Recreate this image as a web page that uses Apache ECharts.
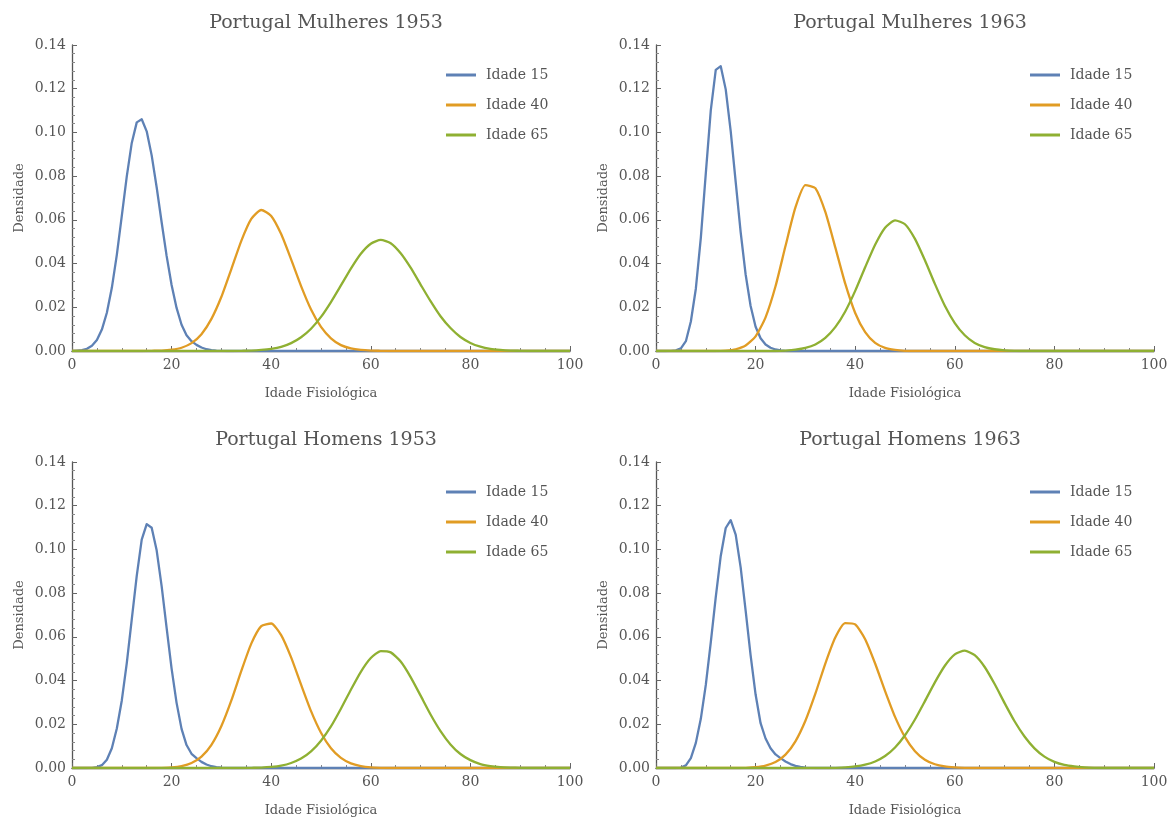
<!DOCTYPE html>
<html>
<head>
<meta charset="utf-8">
<title>Portugal - Idade Fisiológica</title>
<script src="https://cdn.jsdelivr.net/npm/echarts@6/dist/echarts.min.js"></script>
<style>
  html, body { margin: 0; padding: 0; background: #fff; }
  #main { width: 1171px; height: 820px; }
</style>
</head>
<body>
<div id="main"></div>
<script>
// grelhas de x (idade fisiológica) comuns a todos os painéis
const xBlue = [0,1,2,3,4,5,6,7,8,9,10,11,12,13,14,15,16,17,18,19,20,21,22,23,24,25,26,27,28,29,30,31,32,100];
const xOrange = [0,10,12,14,16,18,20,22,24,26,28,30,32,34,36,38,40,42,44,46,48,50,52,54,56,58,60,62,64,66,100];
const xGreen = [0,24,26,28,30,32,34,36,38,40,42,44,46,48,50,52,54,56,58,60,62,64,66,68,70,72,74,76,78,80,82,84,86,88,90,92,94,96,100];

const seriesNames = ['Idade 15', 'Idade 40', 'Idade 65'];
const panelTitles = ['Portugal Mulheres 1953', 'Portugal Mulheres 1963', 'Portugal Homens 1953', 'Portugal Homens 1963'];
const yTicks = [0, 0.02, 0.04, 0.06, 0.08, 0.10, 0.12, 0.14];
const xTicks = [0, 20, 40, 60, 80, 100];

// Mulheres 1953
const m53Idade15 = [0,0.0002,0.0004,0.0010,0.0024,0.0050,0.0098,0.0175,0.0289,0.0440,0.0618,0.0799,0.0952,0.1046,0.1060,0.1005,0.0895,0.0749,0.0589,0.0435,0.0302,0.0197,0.0120,0.0072,0.0045,0.0028,0.0016,0.0008,0.0004,0.0002,0.0001,0,0,0];
const m53Idade40 = [0,0,0,0,0.0001,0.0002,0.0006,0.0015,0.0036,0.0077,0.0147,0.0248,0.0375,0.0504,0.0604,0.0645,0.0618,0.0535,0.0419,0.0297,0.0190,0.0110,0.0058,0.0027,0.0012,0.0005,0.0002,0.0001,0,0,0];
const m53Idade65 = [0,0,0,0,0,0,0.0001,0.0002,0.0005,0.0010,0.0019,0.0036,0.0063,0.0102,0.0156,0.0224,0.0300,0.0377,0.0445,0.0491,0.0508,0.0493,0.0447,0.0381,0.0304,0.0228,0.0159,0.0105,0.0064,0.0037,0.0020,0.0010,0.0005,0.0002,0.0001,0,0,0,0];

// Mulheres 1963
const m63Idade15 = [0,0,0,0.0001,0.0003,0.0012,0.0045,0.0135,0.0285,0.0518,0.0813,0.1101,0.1286,0.1303,0.1197,0.1006,0.0774,0.0544,0.0350,0.0206,0.0111,0.0058,0.0030,0.0015,0.0007,0.0003,0.0001,0,0,0,0,0,0,0];
const m63Idade40 = [0,0,0,0.0002,0.0008,0.0025,0.0067,0.0154,0.0296,0.0480,0.0657,0.0759,0.0745,0.0636,0.0474,0.0308,0.0174,0.0086,0.0037,0.0014,0.0005,0.0001,0,0,0,0,0,0,0,0,0];
const m63Idade65 = [0,0,0.0002,0.0006,0.0014,0.0030,0.0060,0.0109,0.0181,0.0275,0.0383,0.0486,0.0564,0.0598,0.0580,0.0513,0.0415,0.0307,0.0207,0.0128,0.0072,0.0037,0.0018,0.0008,0.0003,0.0001,0,0,0,0,0,0,0,0,0,0,0,0,0];

// Homens 1953
const h53Idade15 = [0,0,0,0,0.0001,0.0004,0.0013,0.0038,0.0090,0.0181,0.0309,0.0480,0.0680,0.0879,0.1045,0.1116,0.1099,0.0996,0.0832,0.0641,0.0455,0.0298,0.0179,0.0105,0.0065,0.0045,0.0028,0.0016,0.0008,0.0004,0.0002,0.0001,0,0];
const h53Idade40 = [0,0,0,0,0,0.0001,0.0003,0.0009,0.0023,0.0052,0.0106,0.0192,0.0309,0.0444,0.0569,0.0649,0.0661,0.0608,0.0506,0.0381,0.0260,0.0161,0.0090,0.0046,0.0021,0.0009,0.0003,0.0001,0,0,0];
const h53Idade65 = [0,0,0,0,0,0,0,0.0001,0.0002,0.0005,0.0011,0.0023,0.0043,0.0076,0.0125,0.0190,0.0271,0.0358,0.0440,0.0503,0.0535,0.0529,0.0487,0.0416,0.0331,0.0245,0.0169,0.0108,0.0064,0.0036,0.0018,0.0009,0.0004,0.0002,0.0001,0,0,0,0];

// Homens 1963
const h63Idade15 = [0,0,0,0,0,0.0002,0.0012,0.0045,0.0115,0.0225,0.0380,0.0575,0.0782,0.0970,0.1098,0.1134,0.1068,0.0918,0.0720,0.0515,0.0336,0.0205,0.0135,0.0090,0.0062,0.0045,0.0030,0.0018,0.0010,0.0005,0.0002,0.0001,0,0];
const h63Idade40 = [0,0,0,0,0,0.0001,0.0004,0.0011,0.0027,0.0061,0.0122,0.0216,0.0340,0.0478,0.0597,0.0663,0.0657,0.0589,0.0478,0.0352,0.0234,0.0141,0.0077,0.0038,0.0017,0.0007,0.0003,0.0001,0,0,0];
const h63Idade65 = [0,0,0,0,0,0,0,0.0001,0.0003,0.0007,0.0015,0.0030,0.0055,0.0094,0.0150,0.0222,0.0306,0.0392,0.0468,0.0520,0.0537,0.0516,0.0462,0.0384,0.0297,0.0214,0.0144,0.0090,0.0052,0.0028,0.0014,0.0007,0.0003,0.0001,0,0,0,0,0];

const panelData = [
  [m53Idade15, m53Idade40, m53Idade65],
  [m63Idade15, m63Idade40, m63Idade65],
  [h53Idade15, h53Idade40, h53Idade65],
  [h63Idade15, h63Idade40, h63Idade65]
];
const xGrids = [xBlue, xOrange, xGreen];

const colors = ['#5E81B5', '#E19C24', '#8FB032'];
const FONT = '"DejaVu Serif", serif';
const TXT = '#555555';

function zip(xs, ys) {
  return xs.map((x, i) => [x, ys[i]]);
}

// posição de cada painel (grelha 2x2)
const lefts = [72, 656];
const tops = [45, 462];
const W = 498, H = 306;

let grid = [], xAxis = [], yAxis = [], series = [], title = [], legend = [];

panelData.forEach((curves, p) => {
  const col = p % 2, row = Math.floor(p / 2);
  const L = lefts[col], T = tops[row];

  grid.push({left: L, top: T, width: W, height: H, containLabel: false, outerBoundsMode: 'none'});

  title.push({
    text: panelTitles[p],
    left: L + W / 2,
    top: T - 36,
    textAlign: 'center',
    textStyle: {fontFamily: FONT, fontSize: 19, fontWeight: 'normal', color: TXT}
  });

  legend.push({
    data: seriesNames,
    orient: 'vertical',
    left: L + 369,
    top: T + 17,
    itemWidth: 30,
    itemHeight: 3,
    itemGap: 14,
    icon: 'rect',
    selectedMode: false,
    textStyle: {fontFamily: FONT, fontSize: 14, color: TXT, lineHeight: 16, padding: [0, 0, 0, 5]}
  });

  xAxis.push({
    type: 'value', gridIndex: p, min: xTicks[0], max: xTicks[xTicks.length - 1], interval: 20,
    name: 'Idade Fisiológica', nameLocation: 'middle', nameGap: 36,
    nameTextStyle: {fontFamily: FONT, fontSize: 13, color: TXT},
    axisLine: {show: true, onZero: false, lineStyle: {color: '#444', width: 1.3}},
    axisTick: {show: true, inside: true, length: 5, lineStyle: {color: '#666'}},
    minorTick: {show: true, splitNumber: 4, length: 3, lineStyle: {color: '#888'}},
    axisLabel: {fontFamily: FONT, fontSize: 14, color: TXT, margin: 7},
    splitLine: {show: false}
  });

  yAxis.push({
    type: 'value', gridIndex: p, min: yTicks[0], max: yTicks[yTicks.length - 1], interval: 0.02,
    name: 'Densidade', nameLocation: 'middle', nameGap: 46,
    nameTextStyle: {fontFamily: FONT, fontSize: 13, color: TXT},
    axisLine: {show: true, lineStyle: {color: '#555', width: 1.3}},
    axisTick: {show: true, inside: true, length: 5, lineStyle: {color: '#666'}},
    minorTick: {show: true, splitNumber: 5, length: 3, lineStyle: {color: '#888'}},
    axisLabel: {fontFamily: FONT, fontSize: 14, color: TXT, margin: 6, formatter: v => v.toFixed(2)},
    splitLine: {show: false}
  });

  curves.forEach((ys, k) => {
    series.push({
      name: seriesNames[k],
      type: 'line',
      xAxisIndex: p,
      yAxisIndex: p,
      data: zip(xGrids[k], ys),
      showSymbol: false,
      // idade 15 com amostragem unitária (cantos visíveis), as outras levemente suavizadas
      smooth: k === 0 ? false : 0.2,
      lineStyle: {color: colors[k], width: 2.3, join: 'round'},
      itemStyle: {color: colors[k]},
      emphasis: {disabled: true}
    });
  });
});

const myChart = echarts.init(document.getElementById('main'));
myChart.setOption({
  animation: false,
  color: colors,
  title: title,
  legend: legend,
  grid: grid,
  xAxis: xAxis,
  yAxis: yAxis,
  series: series
});
</script>
</body>
</html>
